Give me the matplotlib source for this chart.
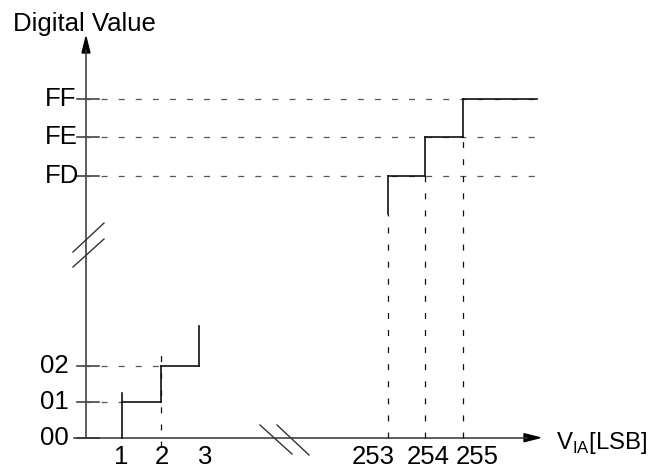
import numpy as np
import matplotlib
matplotlib.use("Agg")
import matplotlib.pyplot as plt
import matplotlib.transforms as mtransforms
from matplotlib.patches import Polygon

plt.rcParams['font.family'] = ['Liberation Sans', 'DejaVu Sans']
plt.rcParams['mathtext.fontset'] = 'custom'
plt.rcParams['mathtext.rm'] = 'Liberation Sans'
plt.rcParams['lines.scale_dashes'] = False

# ADC transfer characteristic, lower and upper end of the range
lsb_low = [1, 2, 3]            # transition points (LSB)
code_low = [1, 2]              # output codes after each transition
riser_low_bottom = [0, 1, 2]
riser_low_top = [1.24, 2, 3.1]
dash_low_top = [None, 2.38, None]

lsb_high = [253, 254, 255]
code_high = [253, 254, 255]    # FD, FE, FF
riser_high_bottom = [252, 253, 254]
x_end = 257

y_ticks = [0, 1, 2, 253, 254, 255]
y_labels = ['00', '01', '02', 'FD', 'FE', 'FF']
x_ticks = [1, 2, 3, 253, 254, 255]
x_labels = ['1', '2', '3', '253', '254', '255']


# broken axes: piecewise-linear scales
xv = [-50, 3.5, 251, 400]
xp = [84 - 50 * 38.4, 84 + 3.5 * 38.4, 388 - 2 * 37.35, 388 + 147 * 37.35]
yv = [-50, 3.5, 251.5, 400]
yp = [30.3 - 50 * 36, 30.3 + 3.5 * 36, 292 - 1.5 * 38.5, 292 + 147 * 38.5]


def fx(v):
    return np.interp(v, xv, xp)


def ix(p):
    return np.interp(p, xp, xv)


def fy(v):
    return np.interp(v, yv, yp)


def iy(p):
    return np.interp(p, yp, yv)


fig = plt.figure(figsize=(6.6, 4.68), dpi=100)
ax = fig.add_axes([0, 0, 1, 1])
ax.set_xscale('function', functions=(fx, ix))
ax.set_yscale('function', functions=(fy, iy))
ax.set_xlim(ix(0), ix(660))
ax.set_ylim(iy(0), iy(468))
ax.axis('off')

# pixel coordinates, origin top-left, for the drawing furniture
px = mtransforms.Affine2D().scale(1 / 660, -1 / 468).translate(0, 1) + ax.transAxes
bx = mtransforms.blended_transform_factory(px, ax.transData)

axc = '#333333'
dc = '#555555'
sc = '#111111'
dash = (0, (4.3, 8.0))

# axes with arrows
ax.plot([86, 86], [437.7, 50], color=axc, lw=1.1, transform=px)
ax.plot([74, 527], [437.7, 437.7], color=axc, lw=1.1, transform=px)
ax.add_patch(Polygon([[86, 37], [82, 53], [90, 53]], closed=True,
                     color='black', transform=px))
ax.add_patch(Polygon([[540, 437.7], [524, 433.7], [524, 441.7]], closed=True,
                     color='black', transform=px))

# break marks
for (x0, y0, x1, y1) in [(73, 252, 104, 223), (73, 267, 104, 239),
                         (260, 425, 292, 454), (277, 425, 309, 455)]:
    ax.plot([x0, x1], [y0, y1], color=axc, lw=1.0, transform=px)

# y ticks
for t in y_ticks:
    ax.plot([77, 99], [t, t], color=axc, lw=1.1, transform=bx)

# dashed reference lines
ax.plot([0, lsb_low[0]], [code_low[0]] * 2, color=dc, lw=0.9, ls=dash)
ax.plot([0, lsb_low[1]], [code_low[1]] * 2, color=dc, lw=0.9, ls=dash)
for c in code_high:
    ax.plot([0, x_end], [c, c], color=dc, lw=0.9, ls=dash)
ax.plot([lsb_low[1]] * 2, [-0.25, dash_low_top[1]], color=sc, lw=0.9, ls=dash)
for x, b in zip(lsb_high, riser_high_bottom):
    ax.plot([x, x], [0, b], color=sc, lw=0.9, ls=dash)

# step characteristic
for i in range(len(code_low)):
    ax.plot([lsb_low[i], lsb_low[i + 1]], [code_low[i]] * 2, color=sc, lw=1.2)
for x, b, t in zip(lsb_low, riser_low_bottom, riser_low_top):
    ax.plot([x, x], [b, t], color=sc, lw=1.2)
ends = lsb_high[1:] + [x_end]
for x0, x1, c in zip(lsb_high, ends, code_high):
    ax.plot([x0, x1], [c, c], color=sc, lw=1.2)
for x, b, c in zip(lsb_high, riser_high_bottom, code_high):
    ax.plot([x, x], [b, c], color=sc, lw=1.2)

fs = 18.5
# y labels
for t, lab in zip(y_ticks, y_labels):
    xl = 45 if t > 100 else 40
    ax.text(xl, t, lab, transform=bx, ha='left', va='center', fontsize=fs)

# x labels
x_shift = [-1, 1.5, 6, -15, 3, 14.5]
for t, lab, dx in zip(x_ticks, x_labels, x_shift):
    ax.annotate(lab, xy=(t, 0), xytext=(dx, -19), textcoords='offset pixels',
                ha='center', va='center', fontsize=fs)

ax.text(13, 31, 'Digital Value', transform=px, ha='left', va='baseline',
        fontsize=fs)
ax.text(556, 449, r'V$_{\mathrm{IA}}$[LSB]', transform=px, ha='left',
        va='baseline', fontsize=17.3)

fig.savefig('out.png', dpi=100)
